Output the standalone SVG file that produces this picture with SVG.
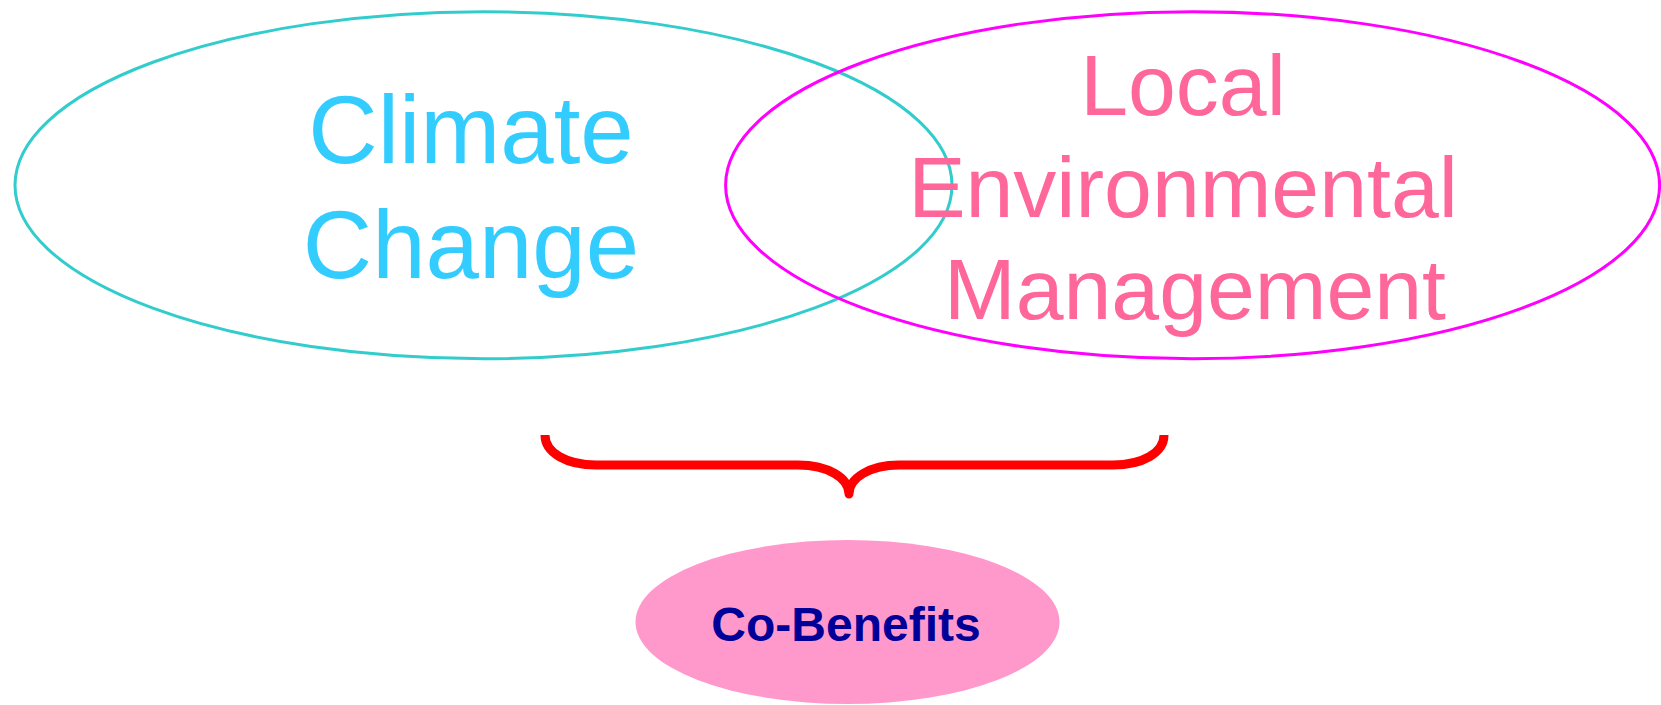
<svg xmlns="http://www.w3.org/2000/svg" width="1661" height="705" viewBox="0 0 1661 705">
<style>
.big{font-family:"Liberation Sans",Arial,sans-serif;text-anchor:middle}
.cc{fill:#33CCFF;font-size:96px}
.lem{fill:#FF6699;font-size:86px}
.cb{fill:#000099;font-size:48px;font-weight:bold}
</style>
<rect width="1661" height="705" fill="#ffffff"/>
<g id="climate-change">
<ellipse cx="483.5" cy="185.2" rx="468.5" ry="173.5" fill="none" stroke="#33CCCC" stroke-width="3"/>
<text class="big cc" x="471" y="163">Climate</text>
<text class="big cc" x="471" y="278">Change</text>
</g>
<g id="local-env">
<ellipse cx="1192.6" cy="185.2" rx="467" ry="173.5" fill="none" stroke="#FF00FF" stroke-width="3"/>
<text class="big lem" x="1183" y="115">Local</text>
<text class="big lem" x="1183" y="217">Environmental</text>
<text class="big lem" x="1195" y="319">Management</text>
</g>
<g id="connectors">
<path d="M545,435 C545,453 567,465 596,465 L798,465 C828,465 849,478 849,494 C849,478 870,465 899,465 L1113,465 C1142,465 1164,453 1164,435" fill="none" stroke="#FF0000" stroke-width="9" stroke-linejoin="round"/>
</g>
<g id="co-benefits">
<ellipse cx="847.5" cy="622" rx="212" ry="82" fill="#FF99CC"/>
<text class="big cb" x="846" y="641">Co-Benefits</text>
</g>
</svg>
